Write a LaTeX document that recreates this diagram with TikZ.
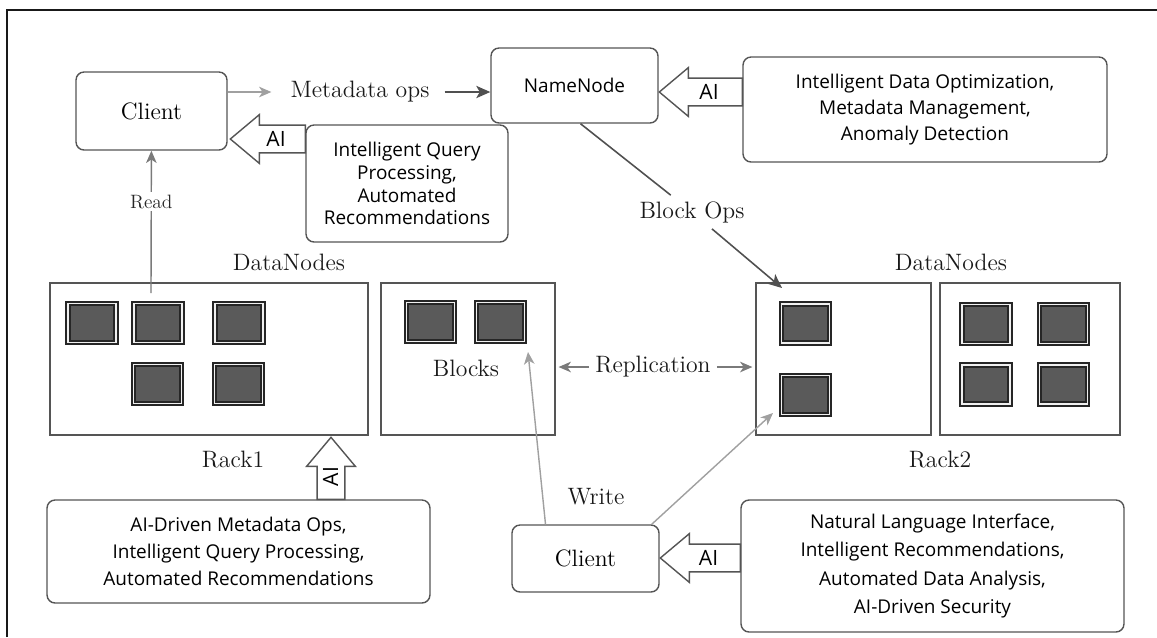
\documentclass[tikz,border=0pt]{standalone}
\usepackage{fontspec}
\newfontfamily\labelsans{Open Sans}
\usetikzlibrary{arrows.meta,shapes.arrows}

\definecolor{boxgray}{HTML}{555555}
\definecolor{blockgray}{HTML}{5A5A5A}
\definecolor{lightarrow}{HTML}{A0A0A0}
\definecolor{midarrow}{HTML}{7A7A7A}
\definecolor{darkarrow}{HTML}{505050}

\begin{document}
\begin{tikzpicture}[x=0.02cm, y=-0.02cm]
  \tikzstyle{infobox} = [draw=boxgray, line width=0.8pt, rounded corners=0.16cm, align=center, font=\labelsans\fontsize{10.8}{14}\selectfont];
  \tikzstyle{clientbox} = [draw=boxgray, line width=0.8pt, rounded corners=0.16cm, font=\fontsize{13.5}{16}\selectfont];
  \tikzstyle{rackbox} = [draw=boxgray, line width=0.7pt, minimum height=3.04cm];
  \tikzstyle{block} = [draw=black!85, line width=1.1pt, double=gray!12, double distance=1.1pt, fill=blockgray, minimum width=0.96cm, minimum height=0.78cm];
  \tikzstyle{lbl} = [font=\fontsize{13.5}{16}\selectfont, text=black!90];
  \tikzstyle{aiarrow} = [single arrow, draw=boxgray, line width=0.8pt, fill=white, font=\labelsans\fontsize{12}{12}\selectfont, inner xsep=2pt, inner ysep=3.5pt, text height=8pt, text depth=0pt, single arrow head extend=6pt, single arrow tip angle=80];
  \tikzstyle{lightarr} = [draw=lightarrow, line width=0.8pt, -{Stealth[length=7pt, width=6pt, inset=2pt]}];
  \tikzstyle{midarr} = [draw=midarrow, line width=0.8pt, -{Stealth[length=7pt, width=6pt, inset=2pt]}];
  \tikzstyle{darkarr} = [draw=darkarrow, line width=0.9pt, -{Stealth[length=8pt, width=7pt, inset=2pt]}];

  \useasboundingbox (0,0) rectangle (1157,637);
  \draw[line width=1.1pt, black!90] (7,637) -- (7,10) -- (1157,10);

  % top row
  \node[clientbox, minimum width=3.02cm, minimum height=1.56cm] (client1) at (151.5,111) {Client};
  \node[infobox, minimum width=3.34cm, minimum height=1.5cm] (namenode) at (574.5,85.5) {NameNode};
  \node[infobox, minimum width=4.04cm, minimum height=2.34cm, font=\labelsans\fontsize{10.8}{13}\selectfont] (iqp) at (407,183.5) {Intelligent Query\\Processing,\\Automated\\Recommendations};
  \node[infobox, minimum width=7.28cm, minimum height=2.1cm, font=\labelsans\fontsize{10.8}{14.7}\selectfont] (ido) at (925,109.5) {Intelligent Data Optimization,\\Metadata Management,\\Anomaly Detection};

  \node[lbl] (meta) at (360,92) {Metadata ops};
  \node[lbl] (bops) at (692,212) {Block Ops};

  % racks
  \node[lbl] (dn1) at (289,262) {DataNodes};
  \node[lbl] (dn2) at (951,262) {DataNodes};
  \node[rackbox, minimum width=6.36cm] (rack1) at (209,359) {};
  \node[rackbox, minimum width=3.48cm] (rack1b) at (468,359) {};
  \node[rackbox, minimum width=3.5cm] (rack2) at (843.5,359) {};
  \node[rackbox, minimum width=3.6cm] (rack2b) at (1030,359) {};
  \node[lbl] (r1lbl) at (233,460) {Rack1};
  \node[lbl] (r2lbl) at (940,460) {Rack2};
  \node[lbl] (blocks) at (466,368) {Blocks};
  \node[lbl] (repl) at (653,367) {Replication};

  \node[block] (r1s1) at (92,323) {};
  \node[block] (r1s2) at (158,323) {};
  \node[block] (r1s3) at (239,323) {};
  \node[block] (r1s4) at (157.5,384) {};
  \node[block] (r1s5) at (238.5,384) {};
  \node[block] (bs1) at (430.5,322) {};
  \node[block] (bs2) at (500.5,322) {};
  \node[block] (r2s1) at (805.5,323.5) {};
  \node[block] (r2s2) at (805.5,395) {};
  \node[block] (r2s3) at (986,324) {};
  \node[block] (r2s4) at (1063.5,324) {};
  \node[block] (r2s5) at (986,384.5) {};
  \node[block] (r2s6) at (1063.5,384.5) {};

  % bottom row
  \node[infobox, minimum width=7.66cm, minimum height=2.06cm, font=\labelsans\fontsize{10.8}{15.3}\selectfont] (botl) at (238.5,551.5) {AI-Driven Metadata Ops,\\Intelligent Query Processing,\\Automated Recommendations};
  \node[clientbox, minimum width=2.94cm, minimum height=1.34cm] (client2) at (585.5,558.5) {Client};
  \node[infobox, minimum width=7.66cm, minimum height=2.64cm, font=\labelsans\fontsize{10.8}{16}\selectfont] (botr) at (932.5,566) {Natural Language Interface,\\Intelligent Recommendations,\\Automated Data Analysis,\\AI-Driven Security};
  \node[lbl] (wr) at (596,497) {Write};

  % AI arrows
  \node[aiarrow, shape border rotate=180, minimum height=1.5cm, anchor=tail] (ai1) at (306,139) {AI};
  \node[aiarrow, shape border rotate=180, minimum height=1.66cm, anchor=tail] (ai2) at (743,92) {AI};
  \node[aiarrow, rotate=90, minimum height=1.24cm, anchor=tail] (ai3) at (331,500) {AI};
  \node[aiarrow, shape border rotate=180, minimum height=1.6cm, anchor=tail] (ai4) at (741,558) {AI};

  \coordinate (rd) at (151,293);
  \coordinate (bo) at (782,288);
  \coordinate (w1) at (528,352);
  \coordinate (w2) at (773,413);

  \draw[lightarr, shorten >=0.26cm] (client1.east |- meta) -- (meta);
  \draw[darkarr, shorten <=0.18cm] (meta.east) -- (namenode.west |- meta.east);
  \draw[midarr] (rd) -- node[pos=0.64, fill=white, inner sep=1.5pt, font=\fontsize{11}{13}\selectfont, text=black!85] {Read} (client1);
  \draw[draw=darkarrow, line width=0.9pt] ([xshift=0.12cm]namenode.south) -- (bops);
  \draw[darkarr] (bops) -- (bo);
  \draw[midarr, shorten >=0.06cm] (repl) -- (rack1b.east |- repl);
  \draw[midarr, shorten >=0.06cm] (repl) -- (rack2.west |- repl);
  \draw[lightarr] ([xshift=-0.8cm]client2.north) -- (w1);
  \draw[lightarr] ([xshift=-0.16cm]client2.north east) -- (w2);

\end{tikzpicture}
\end{document}
